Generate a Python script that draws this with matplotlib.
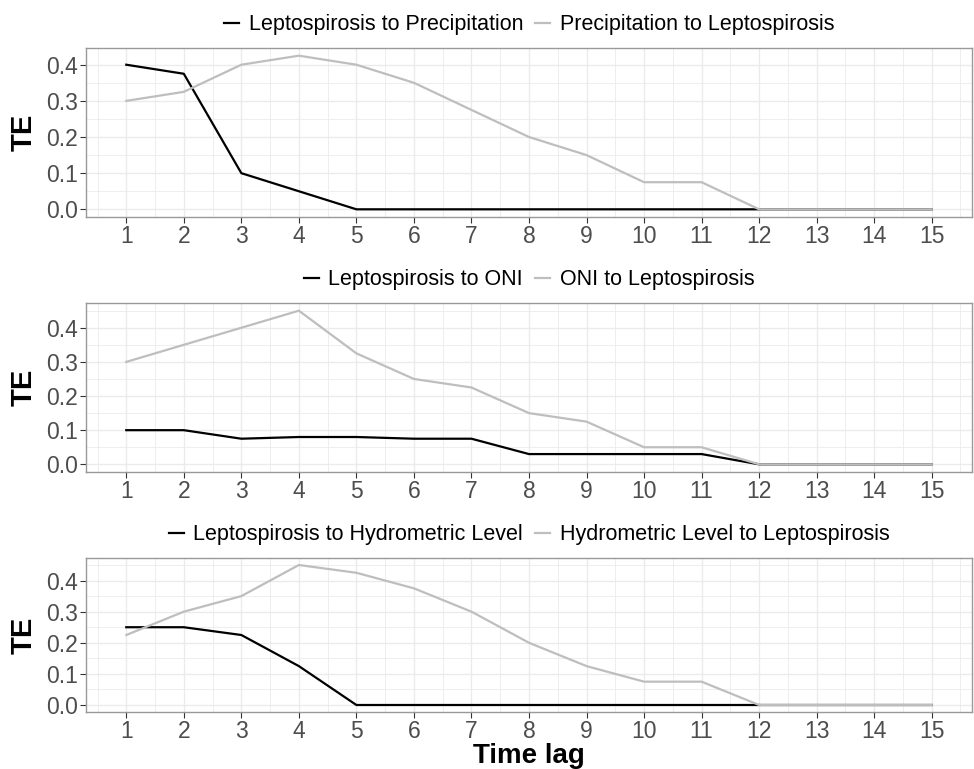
import numpy as np
import matplotlib.pyplot as plt
from matplotlib.ticker import MultipleLocator

plt.rcParams['font.family'] = ['Liberation Sans', 'DejaVu Sans']

lags = list(range(1, 16))

lepto_to_prec = [0.4, 0.375, 0.1, 0.05, 0, 0, 0, 0, 0, 0, 0, 0, 0, 0, 0]
prec_to_lepto = [0.3, 0.325, 0.4, 0.425, 0.4, 0.35, 0.275, 0.2, 0.15, 0.075, 0.075, 0, 0, 0, 0]

lepto_to_oni = [0.1, 0.1, 0.075, 0.08, 0.08, 0.075, 0.075, 0.03, 0.03, 0.03, 0.03, 0, 0, 0, 0]
oni_to_lepto = [0.3, 0.35, 0.4, 0.45, 0.325, 0.25, 0.225, 0.15, 0.125, 0.05, 0.05, 0, 0, 0, 0]

lepto_to_hydro = [0.25, 0.25, 0.225, 0.125, 0, 0, 0, 0, 0, 0, 0, 0, 0, 0, 0]
hydro_to_lepto = [0.225, 0.3, 0.35, 0.45, 0.425, 0.375, 0.3, 0.2, 0.125, 0.075, 0.075, 0, 0, 0, 0]

panels = [
    (lepto_to_prec, prec_to_lepto, 'Leptospirosis to Precipitation', 'Precipitation to Leptospirosis'),
    (lepto_to_oni, oni_to_lepto, 'Leptospirosis to ONI', 'ONI to Leptospirosis'),
    (lepto_to_hydro, hydro_to_lepto, 'Leptospirosis to Hydrometric Level', 'Hydrometric Level to Leptospirosis'),
]

W, H = 974, 769
# axes boxes in pixels: left, top, right, bottom
boxes = [(86, 48, 972, 217), (86, 303, 972, 472), (86, 558, 972, 712)]

fig = plt.figure(figsize=(9.74, 7.69), dpi=100)
grid_c = '#EBEBEB'
grey_line = '#BEBEBE'

for (a, b, la, lb), (l, t, r, bt) in zip(panels, boxes):
    ax = fig.add_axes([l / W, 1 - bt / H, (r - l) / W, (bt - t) / H])
    ax.plot(lags, a, color='black', lw=1.6, label=la)
    ax.plot(lags, b, color=grey_line, lw=1.6, label=lb)
    ymax = max(max(a), max(b))
    pad = ymax * 0.05
    ax.set_ylim(-pad, ymax + pad)
    ax.set_xlim(0.3, 15.7)
    ax.set_xticks(lags)
    ax.xaxis.set_minor_locator(MultipleLocator(0.5))
    ax.set_yticks([0.0, 0.1, 0.2, 0.3, 0.4])
    ax.yaxis.set_minor_locator(MultipleLocator(0.05))
    ax.set_yticklabels(['0.0', '0.1', '0.2', '0.3', '0.4'])
    ax.grid(True, which='major', color=grid_c, lw=1.0)
    ax.grid(True, which='minor', color=grid_c, lw=0.6)
    ax.set_axisbelow(True)
    ax.tick_params(which='major', length=4, color='#333333', labelsize=16.5,
                   labelcolor='#4D4D4D', pad=2)
    ax.tick_params(which='minor', length=0)
    for s in ax.spines.values():
        s.set_color('#999999')
        s.set_linewidth(1.0)
    ax.set_ylabel('TE', fontsize=21, fontweight='bold', labelpad=6)
    ax.legend(loc='lower center', bbox_to_anchor=(0.5, 1.0), ncol=2, frameon=False,
              fontsize=15.5, handlelength=0.7, handletextpad=0.45, columnspacing=0.55,
              borderaxespad=0.2)
    last = ax

last.set_xlabel('Time lag', fontsize=20, fontweight='bold', labelpad=0)

fig.savefig('out.png', dpi=100)
